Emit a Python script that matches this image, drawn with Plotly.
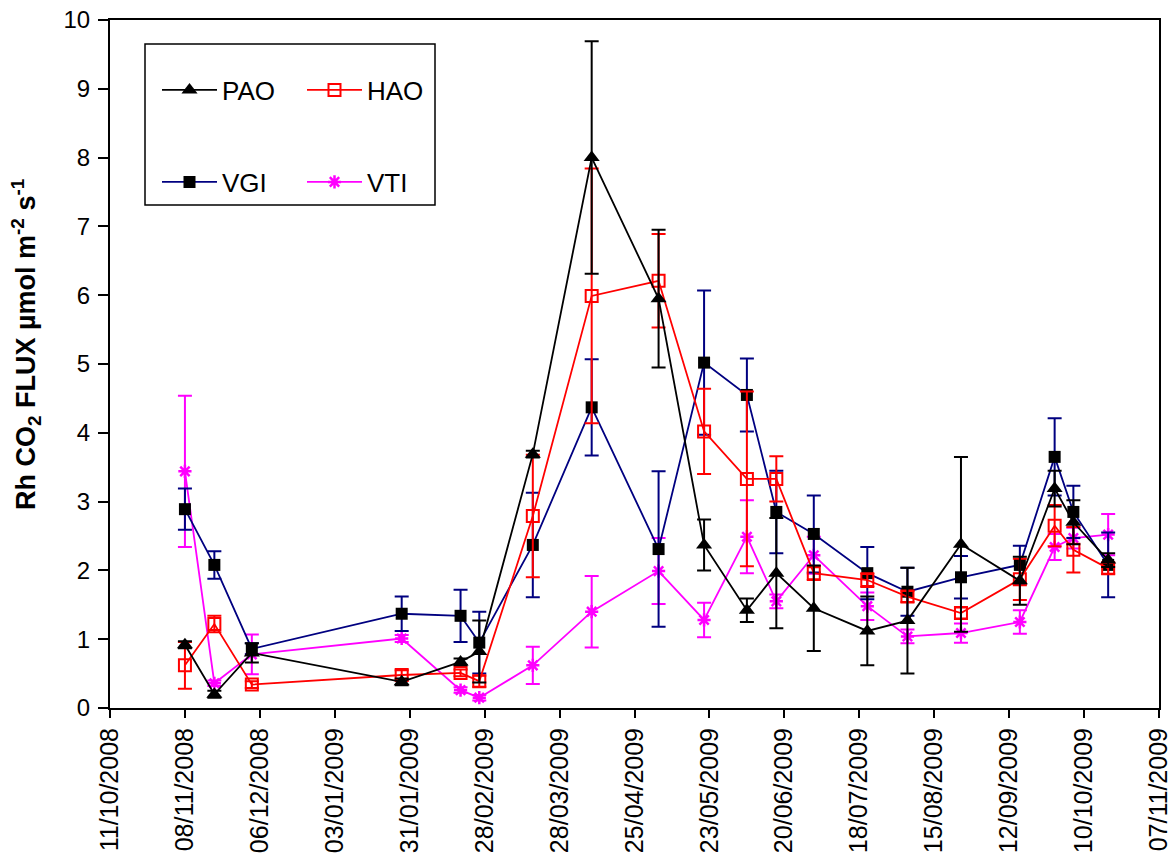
import plotly.graph_objects as go

dates = ["2008-11-08", "2008-11-19", "2008-12-03", "2009-01-28", "2009-02-19",
         "2009-02-26", "2009-03-18", "2009-04-09", "2009-05-04", "2009-05-21",
         "2009-06-06", "2009-06-17", "2009-07-01", "2009-07-21", "2009-08-05",
         "2009-08-25", "2009-09-16", "2009-09-29", "2009-10-06", "2009-10-19"]

pao = [0.92, 0.20, 0.80, 0.38, 0.67, 0.82, 3.69, 8.00, 5.95, 2.37,
       1.42, 1.96, 1.45, 1.12, 1.27, 2.38, 1.85, 3.19, 2.70, 2.15]
pao_err = [0.05, 0.05, 0.14, 0.05, 0.05, 0.45, 0.05, 1.69, 1.00, 0.37,
           0.17, 0.80, 0.62, 0.50, 0.77, 1.27, 0.35, 0.26, 0.32, 0.10]

hao = [0.62, 1.22, 0.34, 0.48, 0.51, 0.39, 2.79, 5.99, 6.21, 4.02,
       3.33, 3.33, 1.96, 1.86, 1.62, 1.38, 1.87, 2.65, 2.30, 2.03]
hao_err = [0.34, 0.12, 0.05, 0.07, 0.05, 0.08, 0.89, 1.85, 0.68, 0.62,
           1.27, 0.33, 0.10, 0.10, 0.08, 0.08, 0.30, 0.30, 0.33, 0.08]

vgi = [2.89, 2.08, 0.86, 1.37, 1.34, 0.95, 2.37, 4.37, 2.31, 5.02,
       4.55, 2.85, 2.53, 1.96, 1.69, 1.90, 2.08, 3.65, 2.85, 2.08]
vgi_err = [0.30, 0.20, 0.08, 0.25, 0.38, 0.45, 0.76, 0.70, 1.13, 1.05,
           0.53, 0.60, 0.56, 0.38, 0.35, 0.31, 0.28, 0.56, 0.38, 0.47]

vti = [3.44, 0.36, 0.78, 1.01, 0.26, 0.15, 0.62, 1.40, 1.99, 1.28,
       2.49, 1.55, 2.22, 1.48, 1.04, 1.09, 1.25, 2.34, 2.47, 2.52]
vti_err = [1.10, 0.04, 0.29, 0.05, 0.04, 0.04, 0.27, 0.52, 0.48, 0.25,
           0.53, 0.10, 0.27, 0.20, 0.10, 0.14, 0.17, 0.19, 0.15, 0.30]

tick_dates = ["2008-10-11", "2008-11-08", "2008-12-06", "2009-01-03", "2009-01-31",
              "2009-02-28", "2009-03-28", "2009-04-25", "2009-05-23", "2009-06-20",
              "2009-07-18", "2009-08-15", "2009-09-12", "2009-10-10", "2009-11-07"]
tick_labels = ["11/10/2008", "08/11/2008", "06/12/2008", "03/01/2009", "31/01/2009",
               "28/02/2009", "28/03/2009", "25/04/2009", "23/05/2009", "20/06/2009",
               "18/07/2009", "15/08/2009", "12/09/2009", "10/10/2009", "07/11/2009"]

y_title = "<b>Rh CO<sub>2</sub> FLUX µmol m<sup>-2</sup> s<sup>-1</sup></b>"

FONT = "Liberation Sans, Arial, sans-serif"
NAVY = "#000080"

fig = go.Figure()

def add(name, y, err, lcolor, ecolor, symbol, mcolor, msize, mline, legend, rank):
    fig.add_trace(go.Scatter(
        x=dates, y=y, name=name, mode="lines+markers",
        line=dict(color=lcolor, width=1.8),
        marker=dict(symbol=symbol, size=msize, color=mcolor,
                    line=dict(color=mcolor, width=mline)),
        error_y=dict(type="data", array=err, visible=True, color=ecolor,
                     thickness=2, width=7),
        legend=legend, legendrank=rank,
    ))

add("VTI", vti, vti_err, "#FF00FF", "#FF00FF", "asterisk-open", "#FF00FF", 11, 2.5, "legend2", 4)
add("VGI", vgi, vgi_err, NAVY, NAVY, "square", "black", 12, 0, "legend2", 3)
add("HAO", hao, hao_err, "#FF0000", "#FF0000", "square-open", "#FF0000", 12, 2, "legend", 2)
add("PAO", pao, pao_err, "black", "black", "triangle-up", "black", 14, 0, "legend", 1)

L, R, T, B = 110, 16, 20, 153
W, H = 1175, 861
pw, ph = W - L - R, H - T - B

def px2x(px):
    return (px - L) / pw

def py2y(py):
    return (H - B - py) / ph

fig.add_shape(type="rect", xref="paper", yref="paper",
              x0=px2x(145), x1=px2x(435), y0=py2y(205), y1=py2y(44),
              line=dict(color="black", width=1.5), fillcolor="rgba(0,0,0,0)")

fig.add_annotation(text=y_title, xref="paper", yref="paper",
                   x=px2x(26), y=py2y(345), xanchor="center", yanchor="middle",
                   textangle=-90, showarrow=False,
                   font=dict(family=FONT, size=27, color="black"))

legend_common = dict(orientation="h", bgcolor="rgba(0,0,0,0)", borderwidth=0,
                     font=dict(family=FONT, size=26, color="black"),
                     entrywidth=75, entrywidthmode="pixels", itemwidth=55,
                     xanchor="left", yanchor="middle", traceorder="normal")

fig.update_layout(
    width=W, height=H,
    margin=dict(l=L, r=R, t=T, b=B, autoexpand=False),
    paper_bgcolor="white", plot_bgcolor="white",
    font=dict(family=FONT, size=24, color="black"),
    showlegend=True,
    legend=dict(x=px2x(157), y=py2y(90), **legend_common),
    legend2=dict(x=px2x(157), y=py2y(182), **legend_common),
    xaxis=dict(type="date", range=["2008-10-11", "2009-11-07"],
               tickvals=tick_dates, ticktext=tick_labels, tickangle=-90,
               ticks="outside", ticklen=8, tickwidth=2, tickcolor="black",
               ticklabelstandoff=0, automargin=False,
               showline=True, linecolor="black", linewidth=2, mirror=True,
               showgrid=False, zeroline=False,
               tickfont=dict(family=FONT, size=25, color="black")),
    yaxis=dict(range=[0, 10], tick0=0, dtick=1, automargin=False,
               ticks="outside", ticklen=10, tickwidth=2, tickcolor="black",
               ticklabelstandoff=3,
               showline=True, linecolor="black", linewidth=2, mirror=True,
               showgrid=False, zeroline=False,
               tickfont=dict(family=FONT, size=24, color="black")),
)

fig.write_html("out.html")
